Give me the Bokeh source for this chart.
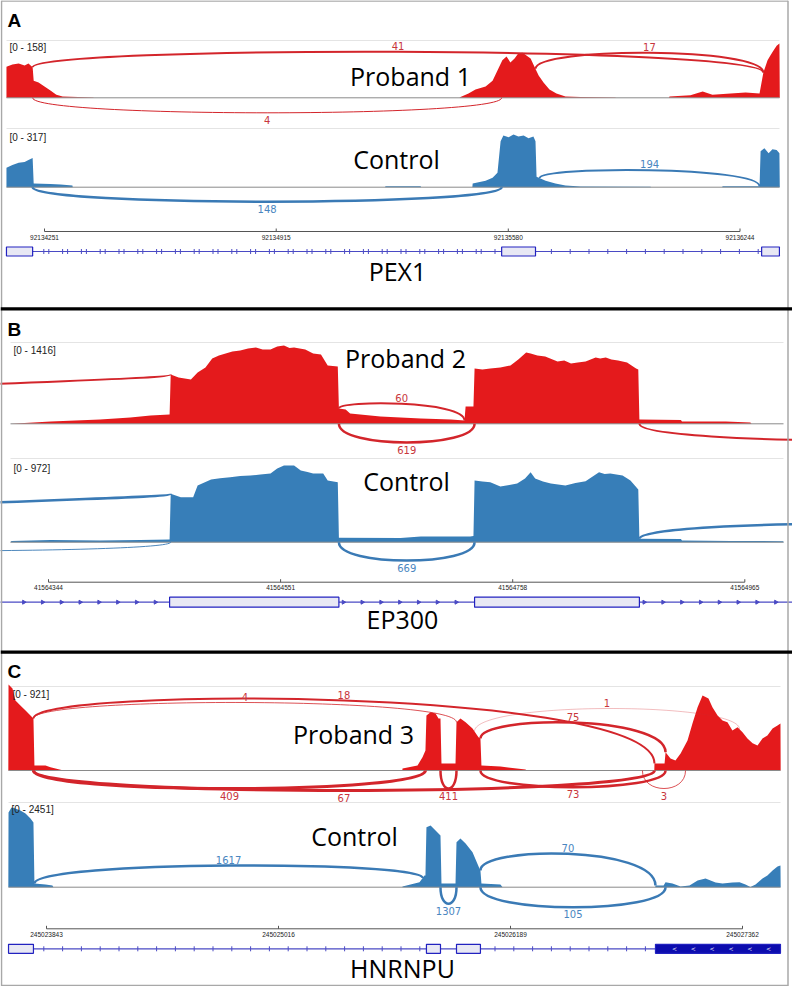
import numpy as np
from bokeh.plotting import figure
from bokeh.models import Range1d
from bokeh.embed import file_html
from bokeh.resources import INLINE
from bokeh.core.properties import value

# ======================= DATA =======================
# ---- Panel A : PEX1 ----
A_TICKS = [92134251, 92134915, 92135580, 92136244]
A_P_MAX = 158
A_C_MAX = 317
A_P_POS = [92134142, 92134142, 92134159, 92134177, 92134194, 92134205, 92134217, 92134220, 92134234, 92134251,
           92134268, 92134285, 92134303, 92134391, 92134392,
           92135440, 92135443, 92135466, 92135486, 92135515, 92135535, 92135549, 92135563, 92135575, 92135586,
           92135598, 92135609, 92135621, 92135632, 92135644, 92135655, 92135667, 92135681, 92135698, 92135718,
           92135744, 92135787, 92135887, 92135888,
           92136040, 92136042, 92136102, 92136137, 92136165, 92136217, 92136260, 92136300, 92136311, 92136323,
           92136331, 92136340, 92136349, 92136357, 92136358]
A_P_DEP = [0, 89, 95, 98, 92, 98, 87, 49, 44, 32, 21, 9, 4, 1, 0,
           0, 2, 12, 24, 32, 49, 78, 107, 118, 101, 112, 127, 129, 121, 112, 89, 64, 44, 24, 12, 4, 2, 1, 0,
           0, 4, 7, 18, 9, 12, 15, 12, 72, 107, 121, 135, 149, 155, 0]
A_C_POS = [92134142, 92134142, 92134159, 92134177, 92134194, 92134205, 92134217, 92134220, 92134268, 92134297,
           92134331, 92134332,
           92135227, 92135228, 92135329, 92135330,
           92135477, 92135478, 92135515, 92135535, 92135549, 92135558, 92135566, 92135581, 92135595, 92135609,
           92135624, 92135638, 92135652, 92135658, 92135661, 92135687, 92135715, 92135744, 92135787, 92135988,
           92135989,
           92136193, 92136194, 92136300, 92136303, 92136314, 92136326, 92136337, 92136349, 92136357, 92136358]
A_C_DEP = [0, 112, 129, 141, 146, 158, 169, 21, 18, 15, 10, 0,
           0, 5, 5, 0,
           0, 21, 38, 55, 84, 266, 300, 289, 306, 294, 300, 283, 294, 266, 61, 38, 21, 10, 4, 3, 0,
           0, 5, 5, 209, 226, 197, 220, 215, 197, 0]
A_EXON_START = [92134142, 92135561, 92136306]
A_EXON_END = [92134217, 92135658, 92136357]
A_GENE_SPAN = [92134142, 92136357]
A_P_J_START = [92134217, 92135658, 92134217]
A_P_J_END = [92136311, 92136311, 92135561]
A_P_J_COUNT = [41, 17, 4]
A_P_J_SIDE = [1, 1, -1]
A_C_J_START = [92134217, 92135670]
A_C_J_END = [92135561, 92136300]
A_C_J_COUNT = [148, 194]
A_C_J_SIDE = [-1, 1]

# ---- Panel B : EP300 ----
B_TICKS = [41564344, 41564551, 41564758, 41564965]
B_P_MAX = 1416
B_C_MAX = 972
B_P_POS = [41564310, 41564311, 41564346, 41564390, 41564417, 41564435, 41564452, 41564453, 41564460, 41564471,
           41564477, 41564484, 41564490, 41564496, 41564502, 41564508, 41564515, 41564522, 41564529, 41564535,
           41564542, 41564548, 41564554, 41564559, 41564563, 41564568, 41564573, 41564580, 41564587, 41564593,
           41564602, 41564603, 41564609, 41564613, 41564640, 41564676, 41564703,
           41564715, 41564716, 41564723, 41564724, 41564731, 41564738, 41564747, 41564756, 41564763, 41564770,
           41564774, 41564780, 41564787, 41564798, 41564804, 41564810, 41564816, 41564823, 41564832, 41564836,
           41564841, 41564846, 41564852, 41564860, 41564868, 41564870,
           41564871, 41564908, 41564909, 41564948, 41564970, 41564971]
B_P_DEP = [0, 3, 42, 78, 114, 150, 168, 892, 837, 801,
           928, 1018, 1181, 1236, 1271, 1307, 1325, 1362, 1380, 1344,
           1344, 1398, 1416, 1371, 1380, 1362, 1344, 1271, 1253, 1054,
           1036, 277, 259, 186, 132, 96, 78,
           60, 313, 313, 1000, 982, 1000, 1018, 1054, 1163, 1289,
           1271, 1235, 1217, 1127, 1145, 1090, 1108, 1127, 1199, 1181,
           1199, 1163, 1145, 1108, 1000, 982,
           78, 69, 42, 42, 24, 0]
B_C_POS = [41564310, 41564311, 41564346, 41564390, 41564426, 41564452, 41564453, 41564462, 41564473, 41564477,
           41564489, 41564497, 41564506, 41564515, 41564524, 41564533, 41564542, 41564548, 41564554, 41564563,
           41564569, 41564575, 41564580, 41564589, 41564593, 41564602, 41564603, 41564658, 41564676, 41564720,
           41564723, 41564724, 41564731, 41564738, 41564747, 41564755, 41564762, 41564769, 41564774, 41564778,
           41564785, 41564792, 41564805, 41564814, 41564823, 41564835, 41564840, 41564845, 41564856, 41564863,
           41564870, 41564871, 41564908, 41564909, 41564952, 41564999, 41565000]
B_C_DEP = [0, 15, 28, 22, 28, 34, 613, 570, 570, 719,
           795, 811, 824, 838, 845, 858, 871, 934, 972, 972,
           909, 890, 871, 871, 782, 760, 56, 53, 72, 72,
           79, 782, 770, 760, 706, 725, 744, 807, 887, 807,
           770, 744, 719, 750, 773, 887, 865, 871, 845, 782,
           668, 43, 41, 22, 15, 13, 0]
B_EXON_START = [41564452, 41564724]
B_EXON_END = [41564603, 41564871]
B_GENE_SPAN = [41564300, 41565010]
B_P_J_START = [41564034, 41564603, 41564603, 41564871]
B_P_J_END = [41564453, 41564715, 41564724, 41565282]
B_P_J_COUNT = [None, 60, 619, None]
B_P_J_SIDE = [1, 1, -1, -1]
B_C_J_START = [41564034, 41564034, 41564603, 41564871]
B_C_J_END = [41564453, 41564453, 41564724, 41565282]
B_C_J_COUNT = [None, None, 669, None]
B_C_J_SIDE = [1, -1, -1, 1]

# ---- Panel C : HNRNPU ----
C_TICKS = [245023843, 245025016, 245026189, 245027362]
C_P_MAX = 921
C_C_MAX = 2451
C_P_POS = [245023650, 245023651, 245023671, 245023686, 245023711, 245023737, 245023762, 245023777, 245023782,
           245023838, 245023863, 245023914, 245023929,
           245025642, 245025643, 245025719, 245025744, 245025759, 245025764, 245025785, 245025810, 245025825,
           245025835, 245025840, 245025911, 245025916, 245025936, 245025962, 245025997, 245026027, 245026037,
           245026042, 245026138, 245026265, 245026270,
           245026916, 245026917, 245026968, 245026973, 245026998, 245027023, 245027049, 245027084, 245027109,
           245027135, 245027160, 245027190, 245027210, 245027236, 245027261, 245027286, 245027311, 245027337,
           245027362, 245027387, 245027413, 245027438, 245027463, 245027488, 245027514, 245027539, 245027554,
           245027555]
C_P_DEP = [0, 921, 878, 749, 696, 642, 589, 557, 54, 54, 35, 7, 0,
           0, 21, 54, 142, 214, 589, 624, 610, 557, 557, 75, 75, 517, 557, 517, 450, 357, 343, 54, 43, 11, 0,
           0, 75, 75, 196, 128, 107, 182, 321, 503, 678, 803, 771, 678, 589, 535, 517, 428, 464, 410, 343, 292,
           268, 343, 375, 450, 482, 503, 0]
C_C_POS = [245023650, 245023651, 245023666, 245023686, 245023711, 245023737, 245023762, 245023777, 245023782,
           245023838, 245023873, 245023878,
           245025642, 245025643, 245025729, 245025754, 245025759, 245025764, 245025785, 245025810, 245025825,
           245025835, 245025840, 245025911, 245025916, 245025936, 245025962, 245025997, 245026032, 245026037,
           245026042, 245026138, 245026149,
           245026921, 245026922, 245026963, 245026973, 245027008, 245027049, 245027094, 245027135, 245027175,
           245027226, 245027261, 245027311, 245027347, 245027377, 245027402, 245027428, 245027463, 245027488,
           245027514, 245027539, 245027554, 245027555]
C_C_DEP = [0, 2298, 2451, 2422, 2360, 2268, 2114, 1991, 114, 83, 52, 0,
           0, 22, 154, 360, 360, 1846, 1898, 1745, 1652, 1591, 114, 114, 1385, 1498, 1345, 1077, 575, 514, 114,
           83, 0,
           0, 52, 52, 154, 114, 22, 52, 206, 268, 145, 114, 145, 154, 83, 6, 83, 268, 360, 514, 637, 668, 0]
C_EXON_START = [245023651, 245025764, 245025916, 245026922]
C_EXON_END = [245023777, 245025835, 245026037, 245027554]
C_EXON_CODING = [False, False, False, True]
C_GENE_SPAN = [245023777, 245026922]
C_P_J_START = [245023777, 245023777, 245026007, 245026037, 245023777, 245023777, 245025835, 245026037, 245026856]
C_P_J_END = [245025916, 245026917, 245027347, 245026973, 245025759, 245026917, 245025916, 245026973, 245027074]
C_P_J_COUNT = [4, 18, 1, 75, 409, 67, 411, 73, 3]
C_P_J_SIDE = [1, 1, 1, 1, -1, -1, -1, -1, -1]
C_C_J_START = [245023782, 245026037, 245025835, 245026037]
C_C_J_END = [245025745, 245026922, 245025916, 245026973]
C_C_J_COUNT = [1617, 70, 1307, 105]
C_C_J_SIDE = [1, 1, -1, -1]

# ======================= STYLE / LAYOUT =======================
RED, RED_ARC, RED_TXT = "#e41a1c", "#d3252b", "#c8363c"
BLUE, BLUE_ARC, BLUE_TXT = "#377eb8", "#3a7ab5", "#4a86bf"
GENE_LINE, EXON_EDGE, EXON_FILL, EXON_DARK = "#4a4ac4", "#2222c0", "#e8e8f4", "#0c0cae"

FX0, FX1, FY0, FY1 = 0, 792, 0, 986   # page-pixel window of the figure

p = figure(width=FX1 - FX0, height=FY1 - FY0, x_range=Range1d(FX0, FX1), y_range=Range1d(FY1, FY0),
           output_backend="svg", toolbar_location=None, min_border=0,
           x_axis_location=None, y_axis_location=None)
p.grid.visible = False
p.outline_line_color = None
p.background_fill_color = "white"
p.border_fill_color = "white"

PANEL_LAYOUT = {"A": (A_TICKS, 44, 739.5), "B": (B_TICKS, 48, 744.3), "C": (C_TICKS, 46, 742)}
XR, BPP = {}, {}
for k, (t, px0, px1) in PANEL_LAYOUT.items():
    bpp = (t[-1] - t[0]) / (px1 - px0)
    BPP[k] = bpp
    XR[k] = Range1d(start=t[0] - (px0 - FX0) * bpp, end=t[0] + (FX1 - px0) * bpp)

TRACKS = {
    "A_P": dict(panel="A", pos=A_P_POS, dep=A_P_DEP, vmax=A_P_MAX, base=97.3, top=42, pal=(RED, RED_ARC, RED_TXT),
                ext=(6, 779), line=40, lbl=(9, 41),
                junc=(A_P_J_START, A_P_J_END, A_P_J_COUNT, A_P_J_SIDE),
                peaks=[46, 45, 15], widths=[2, 2, 1], alphas=[1, 1, 1]),
    "A_C": dict(panel="A", pos=A_C_POS, dep=A_C_DEP, vmax=A_C_MAX, base=186.7, top=132, pal=(BLUE, BLUE_ARC, BLUE_TXT),
                ext=(6, 779), line=128, lbl=(9, 131),
                junc=(A_C_J_START, A_C_J_END, A_C_J_COUNT, A_C_J_SIDE),
                peaks=[14.5, 17], widths=[2.5, 2], alphas=[1, 1]),
    "B_P": dict(panel="B", pos=B_P_POS, dep=B_P_DEP, vmax=B_P_MAX, base=423.3, top=345, pal=(RED, RED_ARC, RED_TXT),
                ext=(10, 783), line=342, lbl=(13, 344),
                junc=(B_P_J_START, B_P_J_END, B_P_J_COUNT, B_P_J_SIDE),
                peaks=[37, 20, 18.7, 16.9], widths=[2, 2, 2.5, 2], alphas=[1, 1, 1, 1]),
    "B_C": dict(panel="B", pos=B_C_POS, dep=B_C_DEP, vmax=B_C_MAX, base=541.7, top=465, pal=(BLUE, BLUE_ARC, BLUE_TXT),
                ext=(10, 783), line=458, lbl=(13, 462),
                junc=(B_C_J_START, B_C_J_END, B_C_J_COUNT, B_C_J_SIDE),
                peaks=[37, 8.7, 18.3, 18.5], widths=[2.5, 1, 2.5, 2.5], alphas=[1, 0.9, 1, 1]),
    "C_P": dict(panel="C", pos=C_P_POS, dep=C_P_DEP, vmax=C_P_MAX, base=770, top=684, pal=(RED, RED_ARC, RED_TXT),
                ext=(8, 780), line=686, lbl=(12, 688),
                junc=(C_P_J_START, C_P_J_END, C_P_J_COUNT, C_P_J_SIDE),
                peaks=[68, 70, 62, 48, 18, 20, 18, 16.7, 18], widths=[1, 2, 1, 2.5, 3, 3, 2.5, 2.5, 1],
                alphas=[0.8, 1, 0.3, 1, 1, 1, 1, 1, 0.8]),
    "C_C": dict(panel="C", pos=C_C_POS, dep=C_C_DEP, vmax=C_C_MAX, base=886.7, top=807, pal=(BLUE, BLUE_ARC, BLUE_TXT),
                ext=(8, 780), line=802, lbl=(11, 803),
                junc=(C_C_J_START, C_C_J_END, C_C_J_COUNT, C_C_J_SIDE),
                peaks=[21.7, 33.4, 16.6, 20], widths=[2.5, 2.5, 2.5, 2.5], alphas=[1, 1, 1, 1]),
}
YR, PPU = {}, {}
for k, t in TRACKS.items():
    ppu = (t["base"] - t["top"]) / t["vmax"]
    PPU[k] = ppu
    YR[k] = Range1d(start=-(FY1 - t["base"]) / ppu, end=(t["base"] - FY0) / ppu)

p.extra_x_ranges = XR
p.extra_y_ranges = YR

# ======================= TRACKS =======================
for k, t in TRACKS.items():
    xn, ppu = t["panel"], PPU[k]
    cov_c, arc_c, txt_c = t["pal"]
    p.segment(x0=[t["ext"][0]], x1=[t["ext"][1]], y0=[t["line"]], y1=[t["line"]],
              line_color="#e4e4e4", line_width=1)
    p.varea(x=t["pos"], y1=0, y2=t["dep"], x_range_name=xn, y_range_name=k, fill_color=cov_c)
    p.segment(x0=[t["ext"][0]], x1=[t["ext"][1]], y0=[t["base"]], y1=[t["base"]],
              line_color="#8a8a8a", line_width=1)
    js, je, jc, jside = t["junc"]
    s = np.array(js, float)
    e = np.array(je, float)
    side = np.array(jside)
    pos = np.array(t["pos"], float)
    dep = np.array(t["dep"], float)
    ya = np.where(side > 0, np.interp(s, pos, dep), 0.0)
    yb = np.where(side > 0, np.interp(e, pos, dep), 0.0)
    pk = side * np.array(t["peaks"], float) / ppu
    H = (pk - (ya + yb) / 8.0) / 0.75
    p.bezier(x0=s, y0=ya, x1=e, y1=yb, cx0=s, cy0=H, cx1=e, cy1=H,
             line_color=arc_c, line_width=t["widths"], line_alpha=t["alphas"],
             x_range_name=xn, y_range_name=k)
    for sgn, base_kind, off in [(1, "bottom", -2), (-1, "top", 3)]:
        idx = [i for i in range(len(jc)) if jc[i] is not None and jside[i] == sgn]
        if idx:
            p.text(x=[(s[i] + e[i]) / 2 for i in idx], y=[pk[i] for i in idx], text=[str(jc[i]) for i in idx],
                   x_range_name=xn, y_range_name=k, text_font=value("DejaVu Sans"), text_font_size="10px",
                   text_align="center", text_baseline=base_kind, y_offset=off, text_color=txt_c)
    p.text(x=[t["lbl"][0]], y=[t["lbl"][1]], text=[f"[0 - {t['vmax']}]"], text_font=value("Liberation Sans"),
           text_font_size="10px", text_align="left", text_baseline="top", text_color="#222222")

# ======================= RULERS & GENES =======================
RULERS = {"A": (A_TICKS, 231), "B": (B_TICKS, 581.7), "C": (C_TICKS, 928.3)}
for k, (ticks, ry) in RULERS.items():
    n = len(ticks)
    p.segment(x0=[ticks[0]], x1=[ticks[-1]], y0=[ry], y1=[ry], x_range_name=k, line_color="#555555", line_width=1)
    p.segment(x0=ticks, x1=ticks, y0=[ry] * n, y1=[ry - 3] * n, x_range_name=k, line_color="#555555", line_width=1)
    p.text(x=ticks, y=[ry + 3] * n, text=[str(v) for v in ticks], x_range_name=k,
           text_font=value("Liberation Sans"), text_font_size="6.5px", text_align="center",
           text_baseline="top", text_color="#222222")

GENES = {
    "A": dict(es=A_EXON_START, ee=A_EXON_END, dark=[False] * 3, span=A_GENE_SPAN, gy=251, hh=4.5, m0=43.3,
              kind="dash", pair_px=5, pair_before=1),
    "B": dict(es=B_EXON_START, ee=B_EXON_END, dark=[False] * 2, span=B_GENE_SPAN, gy=601.7, hh=5, m0=23.3,
              kind="right", pair_px=0, pair_before=0),
    "C": dict(es=C_EXON_START, ee=C_EXON_END, dark=C_EXON_CODING, span=C_GENE_SPAN, gy=948.3, hh=4.5, m0=43.3,
              kind="dash", pair_px=0, pair_before=0),
}
for k, g in GENES.items():
    bpp, r = BPP[k], XR[k]
    gy, hh = g["gy"], g["hh"]
    p.segment(x0=[g["span"][0]], x1=[g["span"][1]], y0=[gy], y1=[gy], x_range_name=k,
              line_color=GENE_LINE, line_width=1.2)
    g0 = r.start + (g["m0"] - FX0) * bpp
    marks = list(np.arange(g0, g["span"][1], 18.8 * bpp))
    if g["pair_px"]:
        lim = g["es"][g["pair_before"]]
        marks += [m + g["pair_px"] * bpp for m in marks if m + g["pair_px"] * bpp < lim]
    keep = [m for m in marks if m > g["span"][0] and
            not any(a - 2 * bpp <= m <= b + 2 * bpp for a, b in zip(g["es"], g["ee"]))]
    if g["kind"] == "dash":
        p.scatter(x=keep, y=[gy] * len(keep), marker="dash", angle=np.pi / 2, size=5, x_range_name=k,
                  line_color=GENE_LINE, line_width=1)
    else:
        p.scatter(x=keep, y=[gy] * len(keep), marker="triangle", angle=-np.pi / 2, size=4, x_range_name=k,
                  line_color=GENE_LINE, fill_color=GENE_LINE)
    n = len(g["es"])
    p.quad(left=g["es"], right=g["ee"], top=[gy - hh] * n, bottom=[gy + hh] * n, x_range_name=k,
           fill_color=[EXON_DARK if d else EXON_FILL for d in g["dark"]], line_color=EXON_EDGE, line_width=1.2)
    for a, b, d in zip(g["es"], g["ee"], g["dark"]):
        if d:
            inner = np.arange(r.start + (674 - FX0) * bpp, b - 4 * bpp, 18.8 * bpp)
            inner = [m for m in inner if m > a]
            p.text(x=inner, y=[gy] * len(inner), text=["<"] * len(inner), x_range_name=k,
                   text_font=value("DejaVu Sans"), text_font_size="6px", text_align="center",
                   text_baseline="middle", text_color="white")

# ======================= LABELS, FRAME & SEPARATORS =======================
BIG = [("Proband 1", 410, 75), ("Control", 396, 158), ("PEX1", 397, 270),
       ("Proband 2", 405, 357), ("Control", 406, 480), ("EP300", 402, 618),
       ("Proband 3", 353, 733), ("Control", 354, 835), ("HNRNPU", 402, 967)]
p.text(x=[b[1] for b in BIG], y=[b[2] for b in BIG], text=[b[0] for b in BIG],
       text_font=value("Open Sans"), text_font_size="25px", text_align="center",
       text_baseline="alphabetic", text_color="black")
LETTERS = [("A", 7, 19.5), ("B", 7, 328.5), ("C", 7, 670.5)]
p.text(x=[l[1] for l in LETTERS], y=[l[2] for l in LETTERS], text=[l[0] for l in LETTERS],
       text_font=value("Liberation Sans"), text_font_size="19px", text_font_style="bold",
       text_align="left", text_baseline="alphabetic", text_color="black")
# thin grey outer frame
p.segment(x0=[1, 787.5, 1, 1], x1=[1, 787.5, 787.5, 787.5], y0=[0, 0, 0.5, 985], y1=[986, 986, 0.5, 985],
          line_color="#a8a8a8", line_width=1.5)
p.segment(x0=[0, 0], x1=[792, 792], y0=[308.3, 651.7], y1=[308.3, 651.7], line_color="black", line_width=3.3)

open("out.html", "w").write(file_html(p, INLINE))
